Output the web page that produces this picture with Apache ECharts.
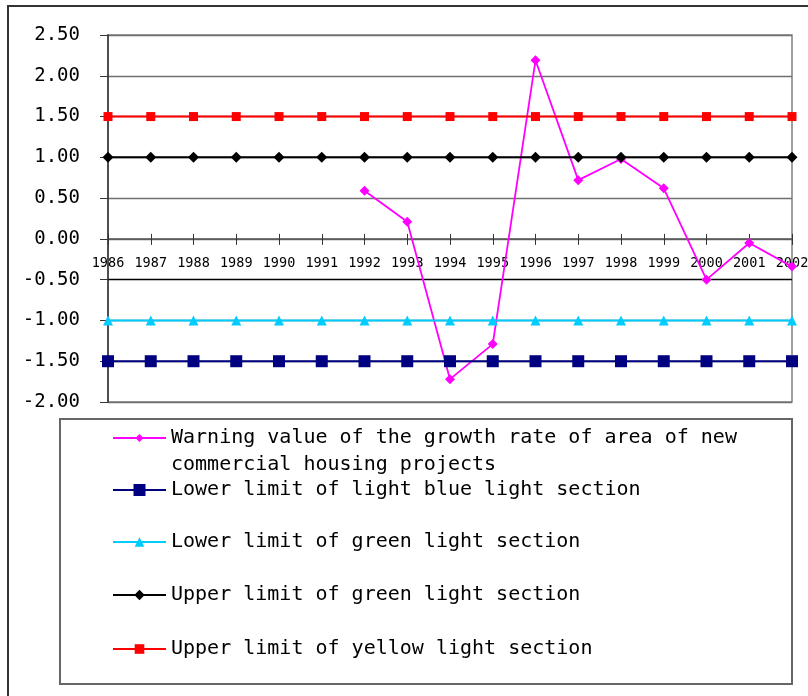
<!DOCTYPE html>
<html>
<head>
<meta charset="utf-8">
<script src="https://cdn.jsdelivr.net/npm/echarts@6/dist/echarts.min.js"></script>
<style>
  html, body { margin: 0; padding: 0; background: #fff; }
  #chart { width: 808px; height: 696px; }
</style>
</head>
<body>
<div id="chart"></div>
<script>
// Years on the category axis
const years = ['1986','1987','1988','1989','1990','1991','1992','1993','1994',
               '1995','1996','1997','1998','1999','2000','2001','2002'];

// Warning value of the growth rate (no data before 1992)
const warningValues = [null, null, null, null, null, null,
  0.59, 0.21, -1.72, -1.29, 2.19, 0.72, 0.98, 0.62, -0.50, -0.05, -0.34];

// Section limits (constant across years)
const lowerLightBlue = [-1.5,-1.5,-1.5,-1.5,-1.5,-1.5,-1.5,-1.5,-1.5,-1.5,-1.5,-1.5,-1.5,-1.5,-1.5,-1.5,-1.5];
const lowerGreen     = [-1,-1,-1,-1,-1,-1,-1,-1,-1,-1,-1,-1,-1,-1,-1,-1,-1];
const upperGreen     = [1,1,1,1,1,1,1,1,1,1,1,1,1,1,1,1,1];
const upperYellow    = [1.5,1.5,1.5,1.5,1.5,1.5,1.5,1.5,1.5,1.5,1.5,1.5,1.5,1.5,1.5,1.5,1.5];

const seriesNames = [
  'Warning value of the growth rate of area of new commercial housing projects',
  'Lower limit of light blue light section',
  'Lower limit of green light section',
  'Upper limit of green light section',
  'Upper limit of yellow light section'
];

const monoFont = "'DejaVu Sans Mono', 'Liberation Mono', monospace";

// Value-axis range and plot box
const yMin = -2, yMax = 2.5;
const gridTop = 35, gridBottom = 294, chartH = 696;
const plotH = chartH - gridTop - gridBottom;
// distance from the top edge of the plot down to the zero line
const zeroFromTop = plotH * yMax / (yMax - yMin);
const zeroFromBottom = plotH - zeroFromTop;

const LINE_H = 26;
function legendItem(idx, centerY, iconH, extra) {
  return Object.assign({
    data: [seriesNames[idx]],
    orient: 'vertical',
    left: 112,
    top: centerY - LINE_H / 2,
    itemWidth: 53,
    itemHeight: iconH,
    itemGap: 0,
    padding: 0,
    selectedMode: false,
    textStyle: { fontFamily: monoFont, fontSize: 20, lineHeight: LINE_H, color: '#000' }
  }, extra || {});
}

const chart = echarts.init(document.getElementById('chart'), null, { renderer: 'canvas' });

chart.setOption({
  animation: false,
  backgroundColor: '#fff',
  graphic: [
    { type: 'rect', silent: true, z: -1,
      shape: { x: 8, y: 6, width: 900, height: 800 },
      style: { fill: 'none', stroke: '#333', lineWidth: 2 } },
    { type: 'rect', silent: true, z: -1,
      shape: { x: 60, y: 419, width: 732, height: 265 },
      style: { fill: 'none', stroke: '#666', lineWidth: 2 } }
  ],
  grid: {
    left: 108, right: 16, top: gridTop, bottom: gridBottom,
    outerBoundsMode: 'none',
    containLabel: false,
    show: true, borderColor: '#808080', borderWidth: 1.5
  },
  legend: [
    // two-line label: a leading blank line keeps the icon level with the first line
    legendItem(0, 438, 10, {
      top: 438 - 1.5 * 27,
      formatter: function () {
        return '\nWarning value of the growth rate of area of new\ncommercial housing projects';
      },
      textStyle: { fontFamily: monoFont, fontSize: 20, lineHeight: 27, color: '#000' }
    }),
    legendItem(1, 490, 15),
    legendItem(2, 542, 12),
    legendItem(3, 595, 13),
    legendItem(4, 649, 12)
  ],
  xAxis: [
    {
      // category axis drawn along the zero line, labels below it
      type: 'category',
      data: years,
      boundaryGap: false,
      position: 'bottom',
      offset: -zeroFromBottom,
      axisLine: { onZero: false, lineStyle: { color: '#555', width: 1.5 } },
      axisTick: { show: true, inside: false, length: 6, lineStyle: { color: '#333' } },
      axisLabel: { interval: 0, margin: 18, fontFamily: monoFont, fontSize: 13.5, color: '#000' },
      splitLine: { show: false }
    },
    {
      // upper half of the crossing tick marks on the zero line
      type: 'category',
      data: years,
      boundaryGap: false,
      position: 'top',
      offset: -zeroFromTop,
      axisLine: { onZero: false, show: false },
      axisTick: { show: true, inside: false, length: 5, lineStyle: { color: '#333' } },
      axisLabel: { show: false },
      splitLine: { show: false }
    }
  ],
  yAxis: {
    type: 'value',
    min: yMin,
    max: yMax,
    interval: 0.5,
    axisLine: { show: true, lineStyle: { color: '#333', width: 1.5 } },
    axisTick: { show: true, inside: false, length: 8, lineStyle: { color: '#333' } },
    axisLabel: {
      margin: 28,
      fontFamily: monoFont,
      fontSize: 19,
      color: '#000',
      formatter: function (v) { return v.toFixed(2); }
    },
    splitLine: {
      show: true,
      lineStyle: {
        color: ['#707070', '#707070', '#707070', '#000000', '#707070',
                '#707070', '#707070', '#707070', '#707070', '#707070'],
        width: 1.3
      }
    }
  },
  series: [
    {
      name: seriesNames[0], type: 'line', data: warningValues,
      symbol: 'diamond', symbolSize: 10, connectNulls: false,
      lineStyle: { color: '#FF00FF', width: 1.8 },
      itemStyle: { color: '#FF00FF' }, z: 2
    },
    {
      name: seriesNames[1], type: 'line', data: lowerLightBlue,
      symbol: 'rect', symbolSize: 12,
      lineStyle: { color: '#000080', width: 2 },
      itemStyle: { color: '#000080' }, z: 3
    },
    {
      name: seriesNames[2], type: 'line', data: lowerGreen,
      symbol: 'triangle', symbolSize: 10,
      lineStyle: { color: '#00CCFF', width: 2 },
      itemStyle: { color: '#00CCFF' }, z: 3
    },
    {
      name: seriesNames[3], type: 'line', data: upperGreen,
      symbol: 'diamond', symbolSize: 11,
      lineStyle: { color: '#000000', width: 2 },
      itemStyle: { color: '#000000' }, z: 3
    },
    {
      name: seriesNames[4], type: 'line', data: upperYellow,
      symbol: 'rect', symbolSize: 9,
      lineStyle: { color: '#FF0000', width: 2 },
      itemStyle: { color: '#FF0000' }, z: 3
    }
  ]
});
</script>
</body>
</html>
